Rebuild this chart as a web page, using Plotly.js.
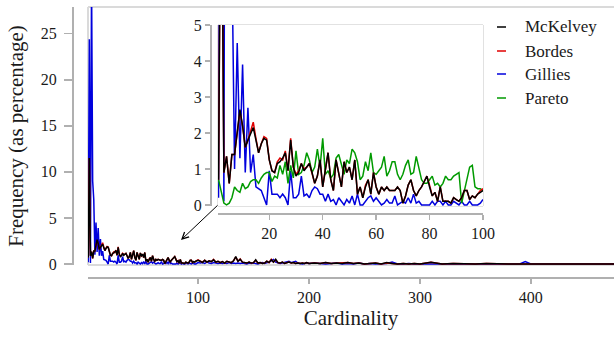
<!DOCTYPE html>
<html>
<head>
<meta charset="utf-8">
<script src="https://cdn.plot.ly/plotly-3.0.1.min.js"></script>
<style>
html,body{margin:0;padding:0;background:#fff;}
#chart{width:614px;height:337px;}
#chart svg text{font-family:"Liberation Serif",serif !important;}
</style>
</head>
<body>
<div id="chart"></div>
<script>
// Cardinality 1..100 (shown in both main plot and inset)
const cardinality = Array.from({length: 100}, (_, i) => i + 1);

const mckelvey = [
  0.7, 11.5, 0.9, 1.35, 0.6, 1.4, 1.4, 2.0, 2.65, 2.2,
  1.6, 1.8, 2.0, 2.15, 1.8, 1.45, 1.7, 1.85, 1.8, 1.25,
  0.95, 0.9, 1.15, 1.2, 1.3, 1.45, 0.95, 1.8, 1.05, 0.8,
  0.9, 1.15, 0.95, 1.05, 1.15, 0.9, 0.6, 0.8, 1.25, 0.5,
  1.05, 1.45, 0.7, 0.4, 1.25, 0.85, 0.5, 1.2, 0.9, 1.05,
  0.7, 1.25, 0.3, 0.5, 0.2, 0.5, 0.7, 0.3, 0.9, 0.5,
  0.3, 0.5, 0.4, 0.5, 0.4, 0.4, 0.4, 0.5, 0.4, 0.05,
  0.25, 0.55, 0.7, 0.4, 0.25, 0.4, 0.5, 0.65, 0.8, 0.5,
  0.25, 0.35, 0.1, 0.5, 0.1, 0.1, 0.1, 0.05, 0.2, 0.15,
  0.1, 0.2, 0.4, 0.4, 0.15, 0.25, 0.2, 0.3, 0.35, 0.4
];
const bordes = [
  0.7, 11.5, 0.9, 1.35, 0.6, 1.4, 1.4, 2.0, 2.6, 2.2,
  1.6, 1.8, 2.05, 2.3, 1.85, 1.45, 1.7, 1.9, 1.85, 1.25,
  0.95, 0.9, 1.2, 1.3, 1.25, 1.5, 0.95, 1.85, 1.05, 0.85,
  0.95, 1.15, 1.0, 1.05, 1.15, 0.9, 0.6, 0.8, 1.25, 0.5,
  1.05, 1.45, 0.7, 0.4, 1.25, 0.9, 0.5, 1.2, 0.9, 1.05,
  0.7, 1.25, 0.3, 0.5, 0.2, 0.55, 0.7, 0.3, 0.9, 0.5,
  0.3, 0.5, 0.4, 0.5, 0.4, 0.4, 0.4, 0.5, 0.4, 0.05,
  0.25, 0.55, 0.7, 0.4, 0.25, 0.4, 0.5, 0.65, 0.8, 0.55,
  0.25, 0.35, 0.1, 0.5, 0.1, 0.1, 0.1, 0.05, 0.2, 0.15,
  0.1, 0.2, 0.4, 0.4, 0.15, 0.25, 0.2, 0.3, 0.4, 0.45
];
const gillies = [
  0.2, 24.4, 0.1, 31, 9, 7, 1.0, 4.5, 1.3, 3.9,
  0.9, 2.7, 0.9, 1.4, 0.5, 0.45, 0.4, 0.2, 0.0, 0.95,
  0.3, 0.3, 0.3, 0.2, 0.3, 0.2, 0.0, 0.95, 0.2, 0.2,
  0.3, 0.8, 0.25, 0.3, 0.2, 0.4, 0.5, 0.45, 0.3, 0.3,
  0.1, 0.3, 0.1, 0.15, 0.0, 0.2, 0.1, 0.0, 0.15, 0.05,
  0.25, 0.0, 0.3, 0.0, 0.0, 0.1, 0.2, 0.25, 0.1, 0.2,
  0.1, 0.0, 0.05, 0.15, 0.05, 0.05, 0.25, 0.0, 0.05, 0.1,
  0.05, 0.2, 0.05, 0.3, 0.05, 0.1, 0.0, 0.0, 0.0, 0.0,
  0.1, 0.0, 0.1, 0.1, 0.0, 0.1, 0.0, 0.0, 0.1, 0.05,
  0.0, 0.1, 0.0, 0.0, 0.1, 0.0, 0.0, 0.0, 0.05, 0.15
];
const pareto = [
  0.7, 0.4, 0.05, 0.0, 0.05, 0.2, 0.5, 0.4, 0.35, 0.6,
  0.45, 0.5, 0.65, 0.7, 0.7, 0.6, 0.75, 0.85, 0.9, 0.9,
  0.65, 0.8, 0.75, 1.1, 0.85, 1.2, 0.6, 1.1, 0.75, 1.5,
  0.85, 0.9, 1.1, 1.45, 1.25, 0.9, 1.05, 1.55, 1.05, 1.85,
  0.85, 0.95, 0.75, 0.85, 1.3, 1.4, 1.15, 0.85, 1.25, 1.15,
  1.55, 1.45, 1.2, 0.7, 0.8, 1.2, 0.95, 1.45, 0.9, 0.85,
  0.95, 1.05, 1.35, 0.8, 0.95, 1.2, 1.2, 0.85, 0.7, 0.85,
  1.1, 1.25, 0.85, 0.9, 1.35, 1.05, 0.7, 0.6, 0.6, 0.7,
  0.8, 0.55, 0.6, 0.5, 0.6, 0.8, 0.7, 0.7, 0.8, 0.85,
  0.9, 0.05, 0.4, 0.7, 1.05, 1.1, 0.5, 0.45, 0.45, 0.4
];

// Larger cardinalities (main plot only)
const tailCardinality = [
  102,104,106,108,110,112,114,116,118,120,
  122,124,126,128,130,132,134,136,138,140,
  142,144,146,148,150,152,154,156,158,160,
  162,164,166,168,170,172,174,176,178,180,
  182,184,186,188,190,192,194,196,198,200,
  205,210,215,220,225,230,235,240,245,250,
  255,260,265,270,275,280,285,290,295,300,
  310,320,330,340,350,360,370,380,390,395,
  400,410,420,430,440,450,460,470,480,490,500
];
const mckelveyTail = [
  0.3,0.15,0.4,0.2,0.35,0.25,0.45,0.2,0.3,0.15,
  0.25,0.1,0.3,0.2,0.15,0.35,0.8,0.3,0.5,0.2,
  0.15,0.1,0.2,0.1,0.15,0.45,0.1,0.15,0.05,0.1,
  0.3,0.15,0.45,0.2,0.5,0.15,0.1,0.2,0.05,0.1,
  0.2,0.1,0.15,0.05,0.1,0.05,0.1,0.05,0.15,0.05,
  0.1,0.05,0.15,0.05,0.1,0.05,0.15,0.05,0.1,0.0,
  0.05,0.1,0.0,0.15,0.05,0.0,0.05,0.0,0.05,0.0,
  0.2,0.0,0.05,0.0,0.0,0.05,0.0,0.0,0.0,0.0,
  0.05,0,0,0,0,0,0,0,0,0,0
];
const bordesTail = [
  0.3,0.2,0.4,0.2,0.35,0.25,0.5,0.2,0.3,0.15,
  0.25,0.1,0.3,0.2,0.15,0.35,0.75,0.3,0.55,0.2,
  0.15,0.1,0.2,0.1,0.15,0.4,0.1,0.15,0.05,0.1,
  0.3,0.15,0.5,0.2,0.45,0.15,0.1,0.2,0.05,0.1,
  0.2,0.1,0.15,0.05,0.1,0.05,0.1,0.05,0.15,0.05,
  0.1,0.05,0.15,0.05,0.1,0.1,0.15,0.05,0.1,0.0,
  0.05,0.1,0.0,0.1,0.05,0.0,0.05,0.0,0.05,0.0,
  0.2,0.0,0.05,0.0,0.0,0.05,0.0,0.0,0.0,0.0,
  0.05,0,0,0,0,0,0,0,0,0,0
];
const gilliesTail = [
  0.1,0.15,0.05,0.2,0.1,0.05,0.15,0.1,0.05,0.1,
  0.05,0.1,0.05,0.15,0.05,0.1,0.05,0.1,0.05,0.1,
  0.05,0.0,0.1,0.05,0.1,0.05,0.0,0.1,0.15,0.05,
  0.1,0.2,0.35,0.5,0.2,0.1,0.05,0.1,0.15,0.25,
  0.3,0.15,0.25,0.3,0.1,0.05,0.0,0.05,0.1,0.05,
  0.1,0.05,0.0,0.05,0.1,0.0,0.05,0.0,0.1,0.0,
  0.05,0.0,0.0,0.05,0.2,0.0,0.0,0.05,0.0,0.0,
  0.0,0.05,0.0,0.0,0.0,0.0,0.0,0.0,0.0,0.25,
  0,0,0,0,0,0,0,0,0,0,0
];

const seriesNames = ['McKelvey', 'Bordes', 'Gillies', 'Pareto'];
const seriesColors = ['#000000', '#e00000', '#0000dd', '#009a00'];

const W = 614, H = 337;
const FONT = 'Liberation Serif';
const TXT = '#1a1a1a';
const px = v => v / W;
const py = v => 1 - v / H;

const fullX = cardinality.concat(tailCardinality);
const lw = 1.5;
const traces = [
  // main plot
  {x: fullX, y: gillies.concat(gilliesTail), xaxis: 'x', yaxis: 'y', mode: 'lines', line: {color: seriesColors[2], width: lw}, name: seriesNames[2]},
  {x: fullX, y: bordes.concat(bordesTail), xaxis: 'x', yaxis: 'y', mode: 'lines', line: {color: seriesColors[1], width: lw}, name: seriesNames[1]},
  {x: fullX, y: mckelvey.concat(mckelveyTail), xaxis: 'x', yaxis: 'y', mode: 'lines', line: {color: seriesColors[0], width: lw}, name: seriesNames[0]},
  // inset
  {x: cardinality, y: gillies, xaxis: 'x2', yaxis: 'y2', mode: 'lines', line: {color: seriesColors[2], width: lw}, name: seriesNames[2]},
  {x: cardinality, y: pareto, xaxis: 'x2', yaxis: 'y2', mode: 'lines', line: {color: seriesColors[3], width: lw}, name: seriesNames[3]},
  {x: cardinality, y: bordes, xaxis: 'x2', yaxis: 'y2', mode: 'lines', line: {color: seriesColors[1], width: lw}, name: seriesNames[1]},
  {x: cardinality, y: mckelvey, xaxis: 'x2', yaxis: 'y2', mode: 'lines', line: {color: seriesColors[0], width: lw}, name: seriesNames[0]}
];

function axisBase() {
  return {
    showline: true, linecolor: '#b0b0b0', linewidth: 1.5,
    ticks: 'outside', tickcolor: '#b0b0b0', tickwidth: 1.5,
    showgrid: false, zeroline: false, fixedrange: true,
    tickfont: {family: FONT, size: 16, color: TXT}
  };
}

const shapes = [
  // main frame
  {type: 'line', xref: 'x domain', yref: 'y domain', x0: 0, x1: 1, y0: 1, y1: 1, line: {color: '#dadada', width: 2}, layer: 'below'},
  {type: 'line', xref: 'x domain', yref: 'y domain', x0: 0, x1: 0, y0: 0, y1: 1, line: {color: '#dadada', width: 2}, layer: 'below'},
  {type: 'line', xref: 'x domain', yref: 'y domain', x0: 0, x1: 1, y0: 0, y1: 0, line: {color: '#dadada', width: 2}, layer: 'below'},
  // inset frame
  {type: 'rect', xref: 'x2 domain', yref: 'y2 domain', x0: 0, x1: 1, y0: 0, y1: 1, line: {color: '#c4c4c4', width: 1}, layer: 'below'}
];
const annotations = [
  {xref: 'paper', yref: 'paper', x: px(181), y: py(240), text: '', showarrow: true,
   ax: 38, ay: -36, arrowhead: 5, arrowsize: 1.3, arrowwidth: 1, arrowcolor: '#000'}
];
const legendY = [27, 51, 74, 98];
seriesNames.forEach((n, i) => {
  shapes.push({type: 'line', xref: 'paper', yref: 'paper', x0: px(497), x1: px(506), y0: py(legendY[i]), y1: py(legendY[i]),
               line: {color: seriesColors[i], width: 1.5}});
  annotations.push({xref: 'paper', yref: 'paper', x: px(523), y: py(legendY[i]), xanchor: 'left', yanchor: 'middle',
                    text: n, showarrow: false, font: {family: FONT, size: 17, color: TXT}});
});

const layout = {
  width: W, height: H,
  margin: {l: 0, r: 0, t: 0, b: 0},
  paper_bgcolor: '#ffffff', plot_bgcolor: '#ffffff',
  showlegend: false,
  font: {family: FONT, size: 16, color: TXT},
  xaxis: Object.assign(axisBase(), {
    domain: [px(88), 1], range: [0.8, 475], anchor: 'free', position: py(277),
    tickvals: [100, 200, 300, 400], ticklen: 5,
    title: {text: 'Cardinality', font: {family: FONT, size: 21, color: TXT}, standoff: 5}
  }),
  yaxis: Object.assign(axisBase(), {
    domain: [py(265), py(7)], range: [-0.11, 27.9], anchor: 'free', position: px(72),
    tickvals: [0, 5, 10, 15, 20, 25], ticklen: 8, ticklabelstandoff: 4,
    title: {text: 'Frequency (as percentage)', font: {family: FONT, size: 21, color: TXT}, standoff: 10}
  }),
  xaxis2: Object.assign(axisBase(), {
    domain: [px(218), px(483)], range: [0.8, 100], anchor: 'free', position: py(213),
    tickvals: [20, 40, 60, 80, 100], ticklen: 5
  }),
  yaxis2: Object.assign(axisBase(), {
    domain: [py(206), py(25)], range: [-0.03, 5], anchor: 'free', position: px(210),
    tickvals: [0, 1, 2, 3, 4, 5], ticklen: 5
  }),
  shapes: shapes,
  annotations: annotations
};

Plotly.newPlot('chart', traces, layout, {staticPlot: true, displayModeBar: false});
</script>
</body>
</html>
